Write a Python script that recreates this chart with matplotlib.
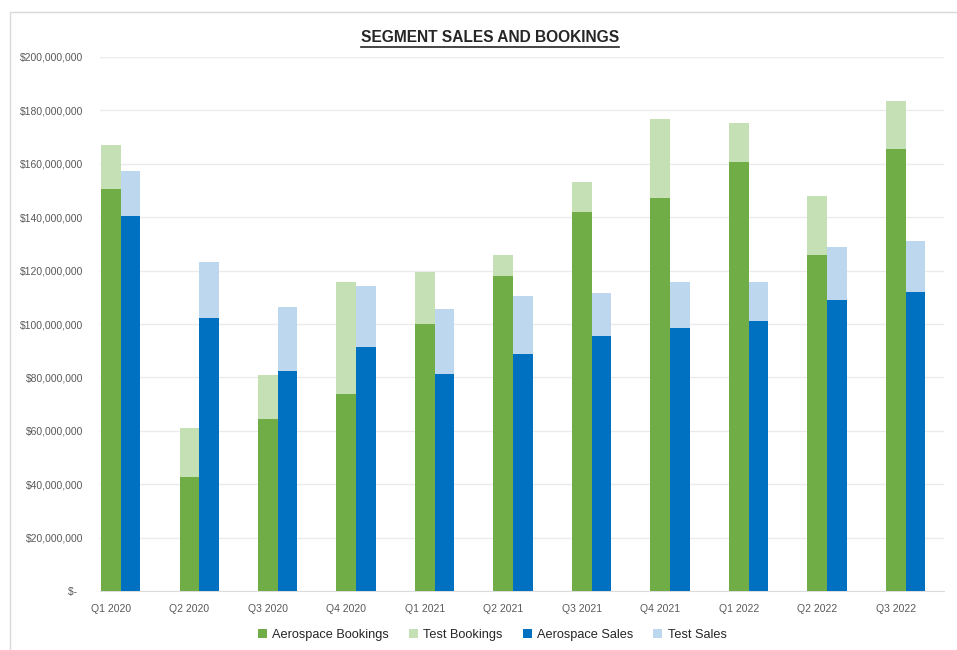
import matplotlib.pyplot as plt
import numpy as np
from matplotlib.lines import Line2D
from matplotlib.ticker import FuncFormatter

# values in $ millions
quarters = ['Q1 2020', 'Q2 2020', 'Q3 2020', 'Q4 2020', 'Q1 2021', 'Q2 2021',
            'Q3 2021', 'Q4 2021', 'Q1 2022', 'Q2 2022', 'Q3 2022']
aero_bookings = [150.6, 42.7, 64.6, 73.8, 100.0, 117.9, 142.1, 147.2, 160.6, 125.9, 165.4]
test_bookings = [16.3, 18.5, 16.4, 41.8, 19.6, 8.1, 11.0, 29.7, 14.6, 22.0, 18.3]
aero_sales = [140.6, 102.1, 82.5, 91.5, 81.3, 88.7, 95.4, 98.5, 101.2, 109.0, 111.9]
test_sales = [16.6, 21.3, 23.7, 22.9, 24.3, 21.9, 16.2, 17.1, 14.7, 19.7, 19.1]

c_aero_book = '#70ad47'
c_test_book = '#c5e0b4'
c_aero_sale = '#0070c0'
c_test_sale = '#bdd7ee'

plt.rcParams['font.family'] = ['Liberation Sans', 'DejaVu Sans']

fig = plt.figure(figsize=(9.57, 6.5), dpi=100)
ax = fig.add_axes([100 / 957, 59 / 650, 844 / 957, 534 / 650])

x = np.arange(len(quarters))
w = 0.25
scale = 1e6
ab = np.array(aero_bookings) * scale
tb = np.array(test_bookings) * scale
as_ = np.array(aero_sales) * scale
ts = np.array(test_sales) * scale

ax.bar(x, ab, w, align='edge', color=c_aero_book, label='Aerospace Bookings', zorder=3)
ax.bar(x, tb, w, bottom=ab, align='edge', color=c_test_book, label='Test Bookings', zorder=3)
ax.bar(x + w, as_, w, align='edge', color=c_aero_sale, label='Aerospace Sales', zorder=3)
ax.bar(x + w, ts, w, bottom=as_, align='edge', color=c_test_sale, label='Test Sales', zorder=3)

ax.set_xlim(-0.013, 10.74)
ax.set_ylim(0, 200e6)
ax.set_yticks(np.arange(0, 200e6 + 1, 20e6))


def money(v, pos):
    if v == 0:
        return '$-  '
    return '${:,.0f}'.format(v)


ax.yaxis.set_major_formatter(FuncFormatter(money))
ax.set_xticks(x + w / 2)
ax.set_xticklabels(quarters)
ax.tick_params(axis='both', length=0, labelsize=7.5, colors='#595959')
ax.tick_params(axis='y', pad=12)
ax.tick_params(axis='x', pad=9)

ax.grid(axis='y', color='#ebebeb', linewidth=1, zorder=0)
for s in ['top', 'right', 'left']:
    ax.spines[s].set_visible(False)
ax.spines['bottom'].set_color('#dcdcdc')

fig.legend(loc='center', bbox_to_anchor=(492 / 957, 15 / 650), ncol=4, frameon=False,
           fontsize=9.2, handlelength=0.7, handleheight=0.7, handletextpad=0.4,
           columnspacing=1.6, labelcolor='#262626')

# title with underline
title = fig.text(490 / 957, 612 / 650, 'SEGMENT SALES AND BOOKINGS', ha='center', va='center',
                 fontsize=11.2, fontweight='bold', color='#262626')
fig.canvas.draw()
bb = title.get_window_extent()
fig.add_artist(Line2D([bb.x0 / 957, bb.x1 / 957], [(bb.y0 - 1) / 650, (bb.y0 - 1) / 650],
                      color='#262626', linewidth=1.2, transform=fig.transFigure))

# outer chart border (top and left visible)
fig.add_artist(Line2D([10 / 957, 10 / 957, 1.0], [0, 638 / 650, 638 / 650],
                      color='#d9d9d9', linewidth=1, transform=fig.transFigure))

fig.savefig('out.png', dpi=100)
